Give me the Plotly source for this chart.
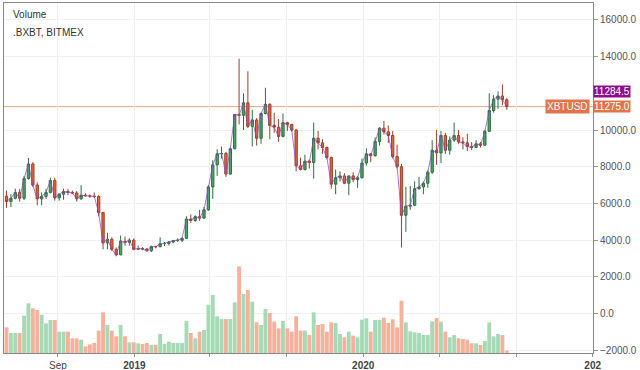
import plotly.graph_objects as go
import pandas as pd

# weekly candles (dates as plotted)
first_week = "2018-06-11"

open_ = [6400, 6100, 6280, 6600, 6280, 7350, 8150, 7000, 6250, 6380,
         6600, 7250, 6300, 6500, 6650, 6600, 6570, 6250, 6450, 6420,
         6400, 6380, 5500, 3850, 4050, 3500, 3200, 3930, 3880, 4000,
         3500, 3540, 3520, 3420, 3650, 3640, 3800, 3820, 3900, 3980,
         3990, 4100, 5150, 5070, 5280, 5200, 5650, 6900, 8100, 8700,
         8720, 7600, 8980, 10850, 10800, 11480, 10200, 10550, 9550, 10900,
         11400, 10250, 10150, 9650, 10400, 10300, 10000, 8050, 7850, 8300,
         8230, 9550, 9300, 9050, 8500, 7050, 7400, 7500, 7100, 7500,
         7300, 7400, 8200, 8700, 8600, 9380, 10100, 9900, 9700, 8550,
         8000, 5350, 5850, 5900, 6800, 6900, 7100, 7700, 8900, 8750,
         9700, 8900, 9450, 9700, 9350, 9300, 9100, 9050, 9250, 9170,
         9930, 11060, 11680, 11850, 11650]
high = [6700, 6500, 6800, 6780, 7500, 8480, 8250, 7150, 6600, 6800,
        7400, 7400, 6550, 6800, 6800, 6700, 6680, 7000, 6550, 6480,
        6600, 6450, 5550, 4400, 4150, 3600, 4250, 4200, 4100, 4100,
        3700, 3620, 3550, 3700, 3700, 4150, 3900, 3950, 4000, 4100,
        4150, 5300, 5400, 5350, 5650, 5800, 7000, 8350, 8950, 9100,
        8800, 9000, 10850, 13880, 12000, 13200, 11100, 10650, 10950, 12300,
        11450, 10950, 10600, 10900, 10450, 10350, 10050, 8500, 8650, 8400,
        10400, 9950, 9500, 9100, 8550, 7850, 7750, 7650, 7500, 7700,
        7500, 8450, 9000, 8750, 9600, 10150, 10500, 10250, 9950, 9200,
        8150, 6900, 6950, 7200, 7450, 7200, 7800, 9450, 10000, 9950,
        9850, 9650, 10400, 10000, 9600, 9800, 9350, 9450, 9350, 10000,
        12000, 11900, 12100, 12480, 11750]
low = [5760, 5800, 6220, 6100, 6180, 7300, 6900, 5900, 5900, 6250,
       6550, 6150, 6150, 6200, 6450, 6500, 6100, 6200, 6370, 6300,
       6300, 5300, 3500, 3500, 3400, 3120, 3180, 3700, 3700, 3450,
       3480, 3450, 3370, 3350, 3550, 3620, 3680, 3700, 3820, 3900,
       3900, 4080, 4950, 5000, 5050, 5150, 5600, 6250, 7500, 8450,
       7450, 7550, 8950, 10300, 10000, 10100, 9100, 9150, 9250, 10850,
       9500, 9850, 9350, 9600, 9950, 9900, 7750, 7800, 7800, 7900,
       7350, 8950, 8700, 8400, 6800, 6500, 7200, 7050, 6450, 7150,
       6850, 7350, 8050, 8250, 8550, 9150, 9750, 9300, 8450, 7900,
       3600, 4450, 5650, 5850, 6750, 6500, 6850, 7600, 8100, 8200,
       8700, 8650, 9350, 9250, 8950, 8850, 8900, 9050, 9050, 9150,
       9900, 10950, 11150, 11350, 11100]
close = [6100, 6280, 6600, 6280, 7350, 8150, 7000, 6250, 6380, 6600,
         7250, 6300, 6500, 6650, 6600, 6570, 6250, 6450, 6420, 6400,
         6380, 5500, 3850, 4050, 3500, 3200, 3950, 3880, 4000, 3500,
         3540, 3520, 3420, 3650, 3640, 3800, 3820, 3900, 3980, 3990,
         4100, 5150, 5070, 5280, 5200, 5650, 6900, 8100, 8700, 8720,
         7600, 8980, 10850, 10800, 11480, 10200, 10550, 9550, 10900, 11400,
         10250, 10150, 9650, 10400, 10300, 10000, 8050, 7850, 8300, 8230,
         9550, 9300, 9050, 8500, 7050, 7400, 7500, 7100, 7500, 7300,
         7400, 8200, 8700, 8600, 9380, 10100, 9900, 9700, 8550, 8000,
         5350, 5850, 5900, 6800, 6900, 7100, 7700, 8900, 8750, 9700,
         8900, 9450, 9700, 9350, 9300, 9100, 9050, 9250, 9170, 9930,
         11060, 11680, 11850, 11650, 11275]
volume = [77, 60, 60, 60, 112, 149, 134, 129, 115, 89,
          99, 99, 64, 64, 64, 44, 44, 40, 20, 26,
          30, 67, 122, 84, 67, 50, 84, 50, 32, 32,
          29, 27, 30, 24, 24, 57, 27, 34, 30, 30,
          30, 96, 60, 44, 64, 69, 145, 174, 110, 102,
          102, 102, 152, 260, 177, 189, 154, 92, 84, 132,
          120, 94, 74, 96, 74, 64, 110, 67, 67, 54,
          122, 84, 87, 64, 92, 90, 57, 47, 64, 52,
          47, 100, 104, 64, 99, 99, 106, 90, 101, 77,
          157, 92, 65, 62, 60, 54, 54, 95, 105, 94,
          64, 47, 54, 44, 42, 40, 29, 29, 24, 36,
          92, 50, 57, 54, 7]
index_last = 11284.5          # .BXBT last value
symbol = "XBTUSD"
# 12000.0 is hidden behind the last-value tag in the reference
price_ticks = [-2000, 0, 2000, 4000, 6000, 8000, 10000, 14000, 16000]
x_tickvals = ["2018-09-01", "2019-01-01", "2019-05-01", "2019-09-01",
              "2020-01-01", "2020-05-01", "2020-09-01", "2021-01-01"]
x_ticktext = ["Sep", "<b>2019</b>", "", "", "<b>2020</b>", "", "", "<b>202</b>"]

dates = pd.date_range(first_week, periods=len(close), freq="7D")
index_line = close[:-1] + [index_last]

GREEN_BODY = "#48a865"
RED_BODY = "#e2653e"
VOL_GREEN = "#a6dab5"
VOL_RED = "#f6b19d"
vol_colors = [VOL_GREEN if c >= o else VOL_RED for o, c in zip(open_, close)]

fig = go.Figure()
fig.add_trace(go.Bar(x=dates, y=volume, marker=dict(color=vol_colors, line=dict(width=0)),
                     yaxis="y", showlegend=False, hoverinfo="skip"))
fig.add_trace(go.Scatter(x=dates, y=index_line, mode="lines", yaxis="y2",
                         line=dict(color="rgba(150,70,200,0.75)", width=1),
                         showlegend=False, hoverinfo="skip"))
fig.add_trace(go.Candlestick(x=dates, open=open_, high=high, low=low, close=close, yaxis="y2",
                             increasing=dict(fillcolor=GREEN_BODY, line=dict(color="#2c6f40", width=1)),
                             decreasing=dict(fillcolor=RED_BODY, line=dict(color="#9c4026", width=1)),
                             whiskerwidth=0, showlegend=False))

font = "Liberation Sans, Arial, sans-serif"
fig.update_layout(
    width=640, height=370,
    margin=dict(l=4, r=47, t=3, b=17, autoexpand=False),
    paper_bgcolor="white", plot_bgcolor="white",
    bargap=0.12, boxgap=0.25,
    font=dict(family=font, size=10, color="#444"),
    xaxis=dict(type="date", range=["2018-06-07", "2021-01-01 12:00"],
               rangeslider=dict(visible=False),
               tickvals=x_tickvals, ticktext=x_ticktext,
               ticks="outside", ticklen=3, tickcolor="#999",
               showgrid=True, gridcolor="#ededed",
               showline=True, linecolor="#888", mirror=True,
               tickfont=dict(size=10, color="#444")),
    yaxis=dict(range=[0, 1050], visible=False, fixedrange=True),
    yaxis2=dict(overlaying="y", side="right", range=[-2150, 16920],
                tickvals=price_ticks, tickformat=".1f",
                ticks="outside", ticklen=4, tickcolor="#999",
                showgrid=True, gridcolor="#f2f2f2", zeroline=False,
                showline=True, linecolor="#888", mirror=True,
                tickfont=dict(size=10, color="#555")),
    shapes=[dict(type="line", xref="paper", x0=0, x1=1, yref="y2",
                 y0=close[-1], y1=close[-1],
                 line=dict(color="rgba(225,160,120,0.9)", width=1), layer="below")],
    annotations=[
        dict(text="Volume", xref="paper", yref="paper", x=0, y=1, xanchor="left", yanchor="top",
             xshift=7, yshift=-4, showarrow=False, font=dict(size=10, color="#333")),
        dict(text=".BXBT, BITMEX", xref="paper", yref="paper", x=0, y=1, xanchor="left", yanchor="top",
             xshift=7, yshift=-22, showarrow=False, font=dict(size=10, color="#333")),
        dict(text=f"{index_last:.1f}", xref="paper", yref="y2", x=1, y=index_last,
             xanchor="left", yanchor="middle", yshift=15, showarrow=False,
             bgcolor="#8e0f8e", borderpad=0, font=dict(size=10, color="white")),
        dict(text=f"{close[-1]:.1f}", xref="paper", yref="y2", x=1, y=close[-1],
             xanchor="left", yanchor="middle", showarrow=False,
             bgcolor="#e2744b", borderpad=0, font=dict(size=10, color="white")),
        dict(text=symbol, xref="paper", yref="y2", x=1, y=close[-1],
             xanchor="right", yanchor="middle", xshift=-3, showarrow=False,
             bgcolor="#e2744b", borderpad=1, font=dict(size=10, color="white")),
    ],
)

fig.write_html("out.html", config={"displayModeBar": False},
               post_script="document.body.style.margin='0px';document.body.style.padding='0px';")
